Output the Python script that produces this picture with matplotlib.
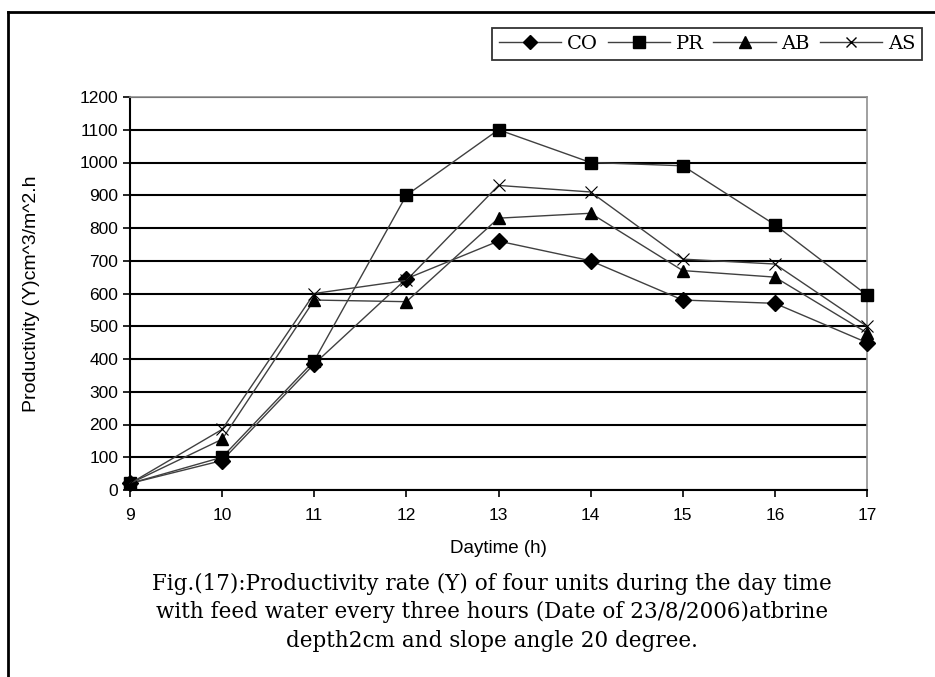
import matplotlib.pyplot as plt
from matplotlib.lines import Line2D

# data
hours = [9, 10, 11, 12, 13, 14, 15, 16, 17]
co = [20, 90, 385, 645, 760, 700, 580, 570, 450]
pr = [20, 100, 395, 900, 1100, 1000, 990, 810, 595]
ab = [20, 155, 580, 575, 830, 845, 670, 650, 480]
as_ = [20, 185, 600, 640, 930, 910, 705, 690, 500]
yticks = list(range(0, 1300, 100))

caption = ("Fig.(17):Productivity rate (Y) of four units during the day time\n"
           "with feed water every three hours (Date of 23/8/2006)atbrine\n"
           "depth2cm and slope angle 20 degree.")

fig = plt.figure(figsize=(9.35, 6.77), dpi=100)
ax = fig.add_axes([130 / 935, 1 - 490 / 677, 737 / 935, 393 / 677])

line_col = '#404040'
series = [
    ('CO', co, 'D', 8, 'black'),
    ('PR', pr, 's', 9, 'black'),
    ('AB', ab, '^', 9, 'black'),
    ('AS', as_, 'x', 8, 'black'),
]
for name, vals, mk, ms, mc in series:
    ax.plot(hours, vals, color=line_col, lw=1.0, marker=mk, ms=ms,
            mfc=mc, mec=mc, mew=1.0 if mk != 'x' else 0.8,
            clip_on=False, zorder=3, label=name)

ax.set_xlim(9, 17)
ax.set_ylim(0, 1200)
ax.set_xticks(hours)
ax.set_yticks(yticks)
ax.tick_params(axis='both', labelsize=12.5, length=5, width=1.2, color='black')
for lab in ax.get_xticklabels() + ax.get_yticklabels():
    lab.set_family('Liberation Sans')
ax.tick_params(axis='x', pad=8)

ax.yaxis.grid(True, color='black', lw=1.5, zorder=1)
ax.set_axisbelow(True)
ax.spines['left'].set_linewidth(1.5)
ax.spines['bottom'].set_linewidth(1.5)
ax.spines['top'].set_color('#909090')
ax.spines['right'].set_color('#909090')
ax.spines['top'].set_linewidth(1.2)
ax.spines['right'].set_linewidth(1.2)

ax.set_ylabel('Productivity (Y)cm^3/m^2.h', family='Liberation Sans', fontsize=14)
ax.yaxis.set_label_coords(-(130 - 40) / 737, 0.5)
ax.set_xlabel('Daytime (h)', family='Liberation Sans', fontsize=13.5, labelpad=12)

fig.text(492 / 935, 1 - 612 / 677, caption, ha='center', va='center',
         family='DejaVu Serif', fontsize=15.5, linespacing=1.38)

# legend
handles = [Line2D([0], [0], color=line_col, lw=1.0, marker=mk, ms=ms - 1,
                  mfc=mc, mec=mc) for _, _, mk, ms, mc in series]
leg = fig.legend(handles, [s[0] for s in series], ncol=4,
                 loc='center', bbox_to_anchor=(707 / 935, 1 - 44 / 677),
                 prop={'family': 'DejaVu Serif', 'size': 14},
                 frameon=True, fancybox=False, handlelength=3.2,
                 handletextpad=0.3, columnspacing=0.5, borderpad=0.35)
leg.get_frame().set_edgecolor('black')
leg.get_frame().set_linewidth(1.3)

# outer frame (left and top edges visible)
fig.add_artist(Line2D([8 / 935, 8 / 935], [0, 1 - 12 / 677], color='black', lw=2))
fig.add_artist(Line2D([8 / 935, 1], [1 - 12 / 677, 1 - 12 / 677], color='black', lw=2))

fig.savefig('out.png', dpi=100)
